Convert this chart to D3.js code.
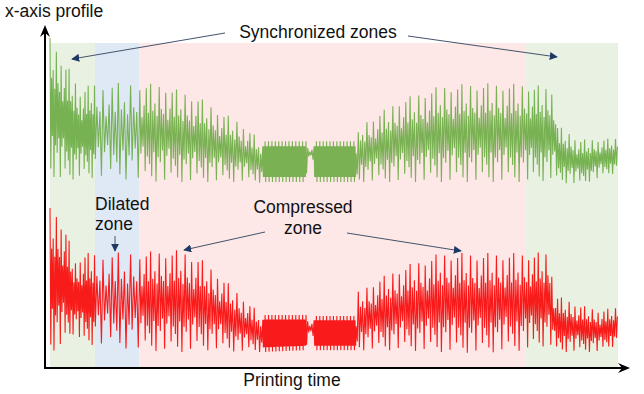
<!DOCTYPE html>
<html>
<head>
<meta charset="utf-8">
<script src="https://cdn.jsdelivr.net/npm/d3@7"></script>
<style>
body { margin: 0; background: #fff; }
text { font-family: "Liberation Sans", Arial, sans-serif; fill: #111; }
</style>
</head>
<body>
<div id="canvas"></div>
<script>

// zones along printing time (0..100)
var zoneStart = [0, 7.9, 15.7, 83.8];
var zoneEnd   = [7.9, 15.7, 83.8, 100];
var zoneFill  = ["#e9f1e2", "#dfe9f5", "#fde7e7", "#e9f1e2"];
var zoneStep  = [0.14, 0.27, 0.19, 0.17];   // half-cycle length in each zone

// flat, steady blocks in the middle of the print
var blockStart = [37.3, 46.5];
var blockEnd   = [45.1, 53.9];
var blockStep  = 0.1;

// green (top) profile envelope
var greenT   = [0, 1.8, 3.5, 5.3, 7.0, 7.9, 15.8, 20.1, 26.4, 30.1, 33.5, 36.6, 37.3, 45.1, 45.3, 46.3, 46.5, 53.9, 54.6, 61.6, 68.7, 75.2, 84.0, 88.7, 89.3, 93.3, 100];
var greenTop = [101.5, 96.3, 91.7, 85.5, 87.1, 87.7, 87.7, 87.1, 83.1, 78.8, 75.7, 70.8, 69.8, 69.8, 68.0, 68.0, 69.8, 69.8, 74.8, 82.5, 86.8, 87.7, 87.4, 86.2, 74.8, 70.2, 70.8];
var greenBot = [59.4, 57.8, 57.8, 58.5, 58.5, 58.5, 57.8, 57.2, 57.2, 57.2, 57.2, 56.9, 57.2, 57.2, 64.0, 64.0, 57.2, 57.2, 57.2, 57.2, 57.2, 57.2, 57.2, 57.8, 57.2, 56.3, 60.3];

// red (bottom) profile envelope
var redT   = [0, 0.9, 2.6, 4.4, 5.8, 7.9, 15.8, 22.9, 26.4, 29.9, 33.5, 37.3, 45.1, 45.3, 46.3, 46.5, 53.9, 54.2, 58.1, 61.6, 68.7, 75.7, 84.0, 87.9, 88.9, 93.3, 96.8, 100];
var redTop = [49.2, 48.0, 44.0, 32.6, 35.4, 35.4, 35.7, 36.3, 33.8, 28.6, 22.5, 16.3, 16.3, 14.8, 14.8, 16.0, 16.0, 23.4, 27.7, 30.8, 35.4, 35.4, 35.4, 35.7, 22.5, 19.4, 17.8, 18.8];
var redBot = [4.9, 5.5, 7.1, 11.1, 7.1, 7.1, 5.5, 4.9, 5.5, 5.5, 4.9, 4.9, 5.5, 9.5, 9.5, 5.5, 5.5, 5.5, 5.5, 5.5, 4.9, 4.6, 5.5, 7.1, 4.9, 4.9, 4.9, 7.1];

// share of the envelope reached by successive peaks / troughs
var upAmp   = [1, 0.45, 0.6, 0.35, 0.95, 0.5, 0.4, 0.85, 0.3, 0.55, 0.9, 0.4];
var downAmp = [0.9, 0.4, 1, 0.5, 0.6, 0.35, 0.95, 0.45, 0.3, 0.8, 0.5, 0.65];

var width = 644, height = 394;

var svg = d3.select("#canvas")
            .append("svg")
            .attr("width", width)
            .attr("height", height);

var x = d3.scaleLinear().domain([0, 100]).range([50, 618]);
var y = d3.scaleLinear().domain([0, 100]).range([368, 43]);

// background zones
svg.selectAll("rect.zone")
   .data(zoneStart)
   .enter()
   .append("rect")
   .attr("class", "zone")
   .attr("x", function(d) { return x(d); })
   .attr("width", function(d, i) { return x(zoneEnd[i]) - x(d); })
   .attr("y", y(100))
   .attr("height", y(0) - y(100))
   .attr("fill", function(d, i) { return zoneFill[i]; });

var zoneOf = function(t) {
   for (var i = 0; i < zoneEnd.length; i++) if (t < zoneEnd[i]) return i;
   return zoneEnd.length - 1;
};

var inBlock = function(t) {
   for (var i = 0; i < blockStart.length; i++)
      if (t >= blockStart[i] && t < blockEnd[i]) return true;
   return false;
};

var wave = function(tk, topV, botV) {
   var top = d3.scaleLinear().domain(tk).range(topV).clamp(true);
   var bot = d3.scaleLinear().domain(tk).range(botV).clamp(true);
   var pts = [], t = 0, k = 0;
   while (t <= 100) {
      var hi = top(t), lo = bot(t), mid = (hi + lo) / 2, half = (hi - lo) / 2;
      var j = Math.floor(k / 2);
      var b = inBlock(t);
      var a = k % 2 == 0 ? upAmp[j % upAmp.length] : downAmp[j % downAmp.length];
      if (b) a = (j % 3 == 0) ? 1 : 0.75;
      var v = k % 2 == 0 ? mid + half * a : mid - half * a;
      if (k == 0) v = hi;
      pts.push([t, v]);
      t += b ? blockStep : zoneStep[zoneOf(t)];
      k++;
   }
   return pts;
};

var line = d3.line()
             .x(function(d) { return x(d[0]); })
             .y(function(d) { return y(d[1]); });

svg.append("path")
   .datum(wave(greenT, greenTop, greenBot))
   .attr("d", line)
   .attr("fill", "none")
   .attr("stroke", "#6aab42")
   .attr("stroke-width", 1.1)
   .attr("stroke-opacity", 0.9);

svg.append("path")
   .datum(wave(redT, redTop, redBot))
   .attr("d", line)
   .attr("fill", "none")
   .attr("stroke", "#f80404")
   .attr("stroke-width", 1.1)
   .attr("stroke-opacity", 0.9);

// axes with arrow heads
var x0 = x(0) - 5, y0 = y(0);
svg.append("line")
   .attr("x1", x0).attr("y1", y0 + 1)
   .attr("x2", x0).attr("y2", 32)
   .attr("stroke", "#000").attr("stroke-width", 2);
svg.append("line")
   .attr("x1", x0 - 1).attr("y1", y0)
   .attr("x2", 624).attr("y2", y0)
   .attr("stroke", "#000").attr("stroke-width", 2);
svg.append("path")
   .attr("d", "M" + x0 + ",25 L" + (x0 - 5) + ",37 L" + x0 + ",33 L" + (x0 + 5) + ",37 Z")
   .attr("fill", "#000");
svg.append("path")
   .attr("d", "M630," + y0 + " L618," + (y0 - 5) + " L622," + y0 + " L618," + (y0 + 5) + " Z")
   .attr("fill", "#000");

// annotation arrows
var arrows = [
   [225, 33, 72, 59],
   [408, 36, 557, 57],
   [115, 236, 115, 251],
   [265, 232, 184, 250],
   [347, 233, 461, 251]
];

svg.append("defs").append("marker")
   .attr("id", "head")
   .attr("viewBox", "0 0 10 10")
   .attr("refX", 9).attr("refY", 5)
   .attr("markerWidth", 8).attr("markerHeight", 8)
   .attr("markerUnits", "userSpaceOnUse")
   .attr("orient", "auto")
   .append("path")
   .attr("d", "M0,0 L10,5 L0,10 Z")
   .attr("fill", "#1f3864");

svg.selectAll("line.note")
   .data(arrows)
   .enter()
   .append("line")
   .attr("class", "note")
   .attr("x1", function(d) { return d[0]; })
   .attr("y1", function(d) { return d[1]; })
   .attr("x2", function(d) { return d[2]; })
   .attr("y2", function(d) { return d[3]; })
   .attr("stroke", "#44546a")
   .attr("stroke-width", 1)
   .attr("marker-end", "url(#head)");

// texts
var labels = [
   ["x-axis profile", 5, 17, "start"],
   ["Synchronized zones", 318, 38, "middle"],
   ["Dilated", 95, 210, "start"],
   ["zone", 95, 230, "start"],
   ["Compressed", 303, 213, "middle"],
   ["zone", 303, 234, "middle"],
   ["Printing time", 292, 386, "middle"]
];

svg.selectAll("text.lbl")
   .data(labels)
   .enter()
   .append("text")
   .attr("class", "lbl")
   .attr("x", function(d) { return d[1]; })
   .attr("y", function(d) { return d[2]; })
   .attr("text-anchor", function(d) { return d[3]; })
   .style("font-size", "17.5px")
   .text(function(d) { return d[0]; });

</script>
</body>
</html>
